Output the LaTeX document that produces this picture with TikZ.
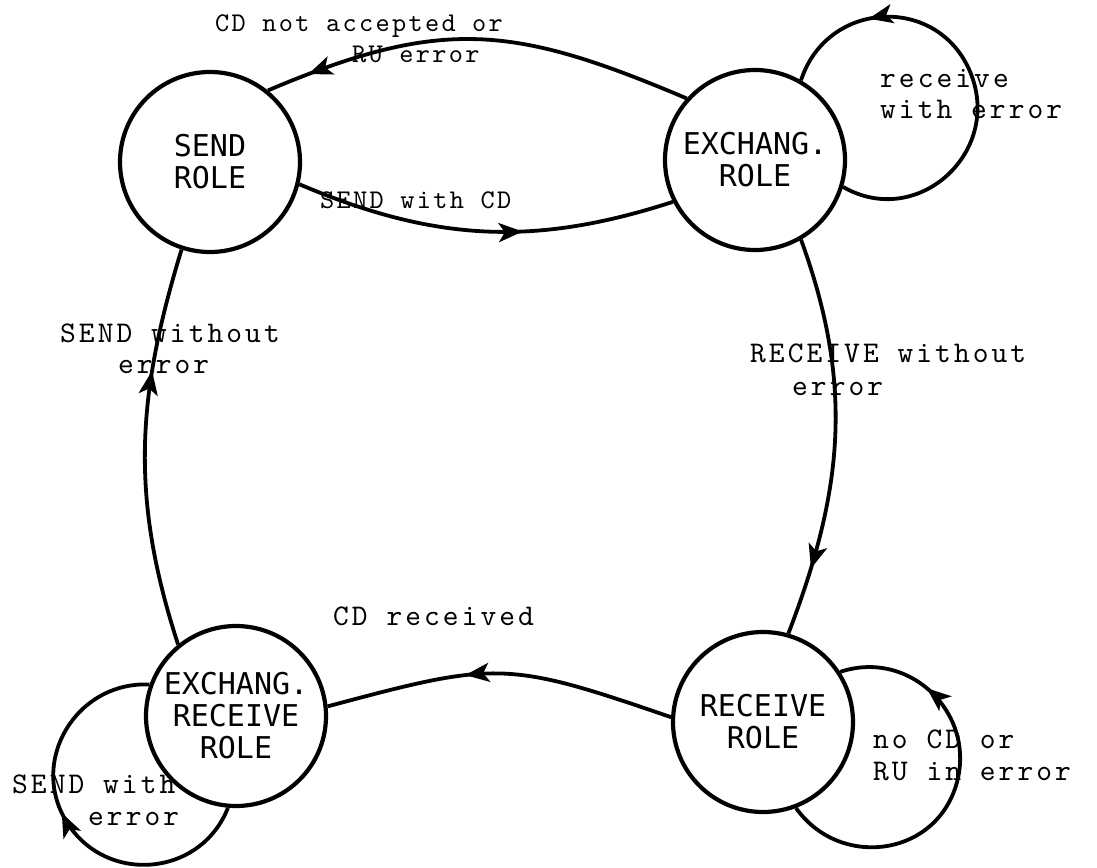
\documentclass[tikz,border=0pt]{standalone}
\usepackage{fontspec}
\newfontfamily\statefont{DejaVu Sans Mono}
\newfontfamily\labfont{lmmono10-regular.otf}[LetterSpace=10.2]
\newfontfamily\labsfont{lmmono10-regular.otf}[LetterSpace=8.6]
\usetikzlibrary{arrows.meta,decorations.markings}
\begin{document}
\begin{tikzpicture}[x=1pt,y=1pt,
  state/.style={circle, draw, line width=4.2pt, minimum size=180pt, inner sep=0pt, align=center,
    font=\statefont\fontsize{30}{32}\selectfont},
  edge/.style={line width=3.8pt},
  midarrow/.style={postaction={decorate}, decoration={markings,
    mark=at position #1 with {\arrow{Stealth[length=24pt,width=19pt,inset=6pt]}}}},
  lab/.style={anchor=base west, inner sep=0pt,
    font=\labfont\fontsize{30}{30}\selectfont},
  labs/.style={anchor=base west, inner sep=0pt,
    font=\labsfont\fontsize{27}{27}\selectfont}]
\useasboundingbox (0,0) rectangle (1097,-867);

% states
\node[state] (send)   at (210,-162) {SEND\\ROLE};
\node[state] (exch)   at (755,-160) {EXCHANG.\\ROLE};
\node[state] (recv)   at (763,-722) {RECEIVE\\ROLE};
\node[state] (exrecv) at (236,-716) {EXCHANG.\\RECEIVE\\ROLE};

% loop far points
\coordinate (fexch)   at (970.6,-73);
\coordinate (frecv)   at (954.9,-788.9);
\coordinate (fexrecv) at (67,-822.5);

% transitions
\draw[edge, midarrow=0.9] (exch.138.5) to[out=157, in=23, looseness=1.15] (send.51);
\draw[edge, midarrow=0.6] (send.-14) to[out=-23, in=198] (exch.207);
\draw[edge, midarrow=0.83] (exch.-60) to[out=-70, in=69] (recv.74);
\draw[edge, midarrow=0.6] (recv.177) to[out=161, in=15, looseness=1.3] (exrecv.6);
\draw[edge, midarrow=0.69] (exrecv.129) to[out=108, in=253] (send.252);

% self loops
\draw[edge, midarrow=0.785] (exch.-17) to[out=-30, in=-68, looseness=1.28] (fexch)
  to[out=112, in=72, looseness=1.28] (exch.60);
\draw[edge, midarrow=0.77] (recv.-69) to[out=-54.7, in=250.8, looseness=1.17] (frecv)
  to[out=70.8, in=18.4, looseness=1.18] (recv.33);
\draw[edge, midarrow=0.53] (exrecv.265) to[out=-111.4, in=-57.8, looseness=1.17] (fexrecv)
  to[out=122.2, in=177.4, looseness=1.16] (exrecv.160.6);

% labels
\node[labs] (l1a) at (215,-32) {CD not accepted or};
\node[labs] (l1b) at (352,-63) {RU error};
\node[labs] (l2)  at (320,-208) {SEND with CD};
\node[lab] (l3a) at (880,-87) {receive};
\node[lab] (l3b) at (880,-118) {with error};
\node[lab] (l4a) at (750,-362) {RECEIVE without};
\node[lab] (l4b) at (792,-395) {error};
\node[lab] (l5a) at (60,-342) {SEND without};
\node[lab] (l5b) at (118,-373) {error};
\node[lab] (l6)  at (333,-625) {CD received};
\node[lab] (l7a) at (873,-748) {no CD or};
\node[lab] (l7b) at (873,-780) {RU in error};
\node[lab] (l8a) at (12,-793) {SEND with};
\node[lab] (l8b) at (88,-825) {error};
\end{tikzpicture}
\end{document}
